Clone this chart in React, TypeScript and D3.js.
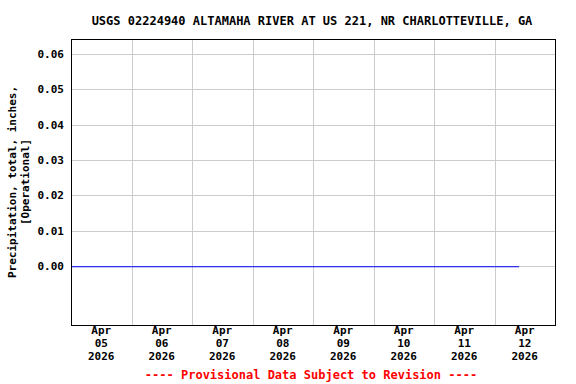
import React from "react";
import * as d3 from "d3";

const title = "USGS 02224940 ALTAMAHA RIVER AT US 221, NR CHARLOTTEVILLE, GA";
const yLabelLines = ["Precipitation, total, inches,", "[Operational]"];
const footer = "---- Provisional Data Subject to Revision ----";

const yTicks = [0.0, 0.01, 0.02, 0.03, 0.04, 0.05, 0.06];
const yDomain = [-0.0166, 0.0642];
const xStart = "2026-04-05T00:00";
const xEnd = "2026-04-13T00:00";
const dayTicks = ["2026-04-05", "2026-04-06", "2026-04-07", "2026-04-08", "2026-04-09", "2026-04-10", "2026-04-11", "2026-04-12"];

const seriesTimes = [
  "2026-04-05T00:00", "2026-04-06T00:00", "2026-04-07T00:00", "2026-04-08T00:00",
  "2026-04-09T00:00", "2026-04-10T00:00", "2026-04-11T00:00", "2026-04-12T00:00", "2026-04-12T09:45",
];
const seriesValues = [0, 0, 0, 0, 0, 0, 0, 0, 0];

const W = 576, H = 384;
const m = { left: 71, right: 555, top: 39, bottom: 325 };
const font = "'DejaVu Sans Mono', monospace";

export default function App() {
  const x = d3.scaleTime().domain([new Date(xStart), new Date(xEnd)]).range([m.left, m.right]);
  const y = d3.scaleLinear().domain(yDomain).range([m.bottom, m.top]);
  const pts = seriesTimes.map((t, i) => [new Date(t), seriesValues[i]] as [Date, number]);
  const line = d3.line<[Date, number]>().x(d => x(d[0])).y(d => y(d[1]));
  const fmtMon = d3.timeFormat("%b");
  const fmtDay = d3.timeFormat("%d");
  const fmtYear = d3.timeFormat("%Y");
  const days = dayTicks.map(d => new Date(d + "T00:00"));
  const cy = (m.top + m.bottom) / 2;

  return (
    <svg width={W} height={H} style={{ position: "absolute", left: 0, top: 0, background: "#fff" }}
      fontFamily={font} fontWeight="bold">
      <rect x={0} y={0} width={W} height={H} fill="#fff" />
      <text x={312} y={25} textAnchor="middle" fontSize={12}>{title}</text>
      {yTicks.map(t => (
        <line key={"gy" + t} x1={m.left} x2={m.right} y1={Math.round(y(t)) + 0.5} y2={Math.round(y(t)) + 0.5} stroke="#cccccc" />
      ))}
      {days.slice(1).map((d, i) => (
        <line key={"gx" + i} x1={Math.round(x(d)) + 0.5} x2={Math.round(x(d)) + 0.5} y1={m.top} y2={m.bottom} stroke="#cccccc" />
      ))}
      <path d={line(pts) || ""} fill="none" stroke="#0000ff" strokeWidth={1} transform="translate(0,0.5)" />
      <rect x={m.left + 0.5} y={m.top + 0.5} width={m.right - m.left} height={m.bottom - m.top} fill="none" stroke="#000" />
      {yTicks.map(t => (
        <text key={"ty" + t} x={64} y={y(t) + 4} textAnchor="end" fontSize={11}>{d3.format(".2f")(t)}</text>
      ))}
      {days.map((d, i) => {
        const cx = x(d3.timeHour.offset(d, 12));
        return (
          <g key={"tx" + i}>
            <text x={cx} y={334} textAnchor="middle" fontSize={11}>{fmtMon(d)}</text>
            <text x={cx} y={347} textAnchor="middle" fontSize={11}>{fmtDay(d)}</text>
            <text x={cx} y={360} textAnchor="middle" fontSize={11}>{fmtYear(d)}</text>
          </g>
        );
      })}
      <text transform={`translate(16,${cy}) rotate(-90)`} textAnchor="middle" fontSize={11}>{yLabelLines[0]}</text>
      <text transform={`translate(29,${cy}) rotate(-90)`} textAnchor="middle" fontSize={11}>{yLabelLines[1]}</text>
      <text x={311} y={379} textAnchor="middle" fontSize={12} fill="#ff0000">{footer}</text>
    </svg>
  );
}
